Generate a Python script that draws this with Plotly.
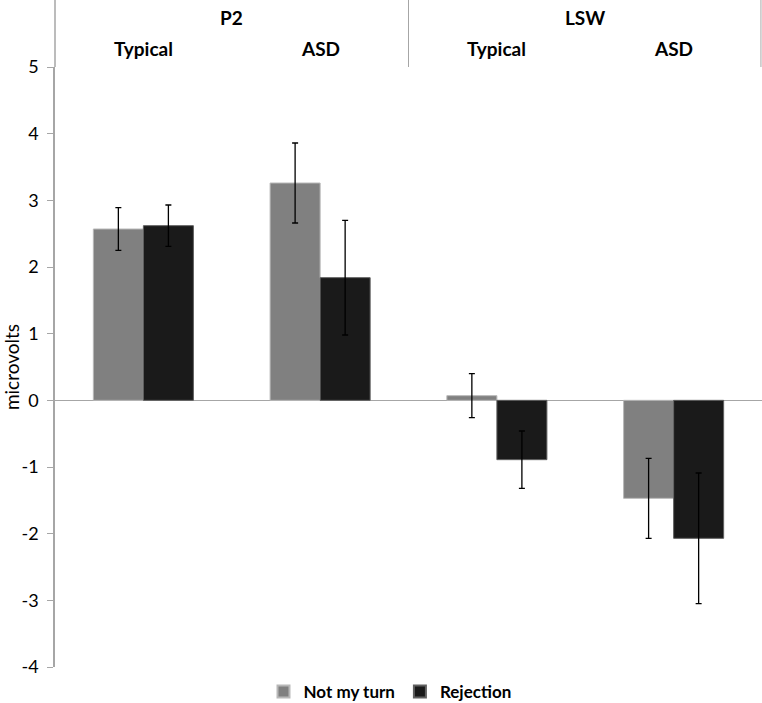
import plotly.graph_objects as go

groups = ["Typical", "ASD", "Typical", "ASD"]
components = ["P2", "LSW"]
series_names = ["Not my turn", "Rejection"]
not_my_turn = [2.57, 3.26, 0.07, -1.47]
not_my_turn_err = [0.32, 0.60, 0.33, 0.60]
rejection = [2.62, 1.84, -0.89, -2.07]
rejection_err = [0.31, 0.86, 0.43, 0.98]
y_ticks = [5, 4, 3, 2, 1, 0, -1, -2, -3, -4]

x = list(range(len(groups)))
font_family = "Lato, 'Open Sans', sans-serif"

fig = go.Figure()
fig.add_trace(go.Bar(
    x=x, y=not_my_turn, name="<b>%s</b>" % series_names[0],
    marker=dict(color="#808080", line=dict(color="#b8b8b8", width=1)),
    error_y=dict(type="data", array=not_my_turn_err, color="#000000", thickness=1.3, width=3),
))
fig.add_trace(go.Bar(
    x=x, y=rejection, name="<b>%s</b>" % series_names[1],
    marker=dict(color="#1a1a1a", line=dict(color="#606060", width=1)),
    error_y=dict(type="data", array=rejection_err, color="#000000", thickness=1.3, width=3),
))

plot_h = 600.0
header_frac = 67.0 / plot_h

annotations = []
for i, g in enumerate(groups):
    annotations.append(dict(x=i, xref="x", y=1 + 18 / plot_h, yref="paper", text="<b>%s</b>" % g,
                            showarrow=False, font=dict(size=19, color="#000000", family=font_family),
                            yanchor="middle"))
for j, c in enumerate(components):
    annotations.append(dict(x=2 * j + 0.5, xref="x", y=1 + 50 / plot_h, yref="paper", text="<b>%s</b>" % c,
                            showarrow=False, font=dict(size=19, color="#000000", family=font_family),
                            yanchor="middle"))

shapes = [
    dict(type="line", xref="x", yref="paper", x0=1.5, x1=1.5, y0=1, y1=1 + header_frac,
         line=dict(color="#a6a6a6", width=1)),
    dict(type="line", xref="paper", yref="paper", x0=0.9985, x1=0.9985, y0=1, y1=1 + header_frac,
         line=dict(color="#a6a6a6", width=1)),
    dict(type="line", xref="paper", yref="paper", x0=0, x1=0, y0=1, y1=1 + header_frac,
         line=dict(color="#a6a6a6", width=1.5)),
]

fig.update_layout(
    width=762, height=703,
    margin=dict(l=55, r=0, t=67, b=36, autoexpand=False),
    paper_bgcolor="white", plot_bgcolor="white",
    barmode="group", bargap=0.434, bargroupgap=0,
    font=dict(family=font_family, color="#000000"),
    showlegend=True,
    legend=dict(orientation="h", x=(390 - 55) / 707, xanchor="center", y=-25 / plot_h, yanchor="middle",
                font=dict(size=17, family=font_family), itemwidth=30,
                itemsizing="constant", traceorder="normal"),
    annotations=annotations,
    shapes=shapes,
    xaxis=dict(range=[-0.5, 3.5], showticklabels=False, showgrid=False, zeroline=False,
               showline=False, ticks="", automargin=False),
    yaxis=dict(range=[-4, 5], tickvals=y_ticks, ticktext=[str(v) for v in y_ticks],
               showgrid=False, zeroline=True, zerolinecolor="#a6a6a6", zerolinewidth=1,
               showline=True, linecolor="#a6a6a6", linewidth=1.5, automargin=False,
               ticks="outside", ticklen=6, tickcolor="#a6a6a6", ticklabelstandoff=5,
               tickfont=dict(size=18, family=font_family),
               title=dict(text="microvolts", font=dict(size=19, family=font_family), standoff=9)),
)

fig.write_html("out.html", config={"displayModeBar": False},
               post_script="document.body.style.margin='0';document.body.style.overflow='hidden';")
